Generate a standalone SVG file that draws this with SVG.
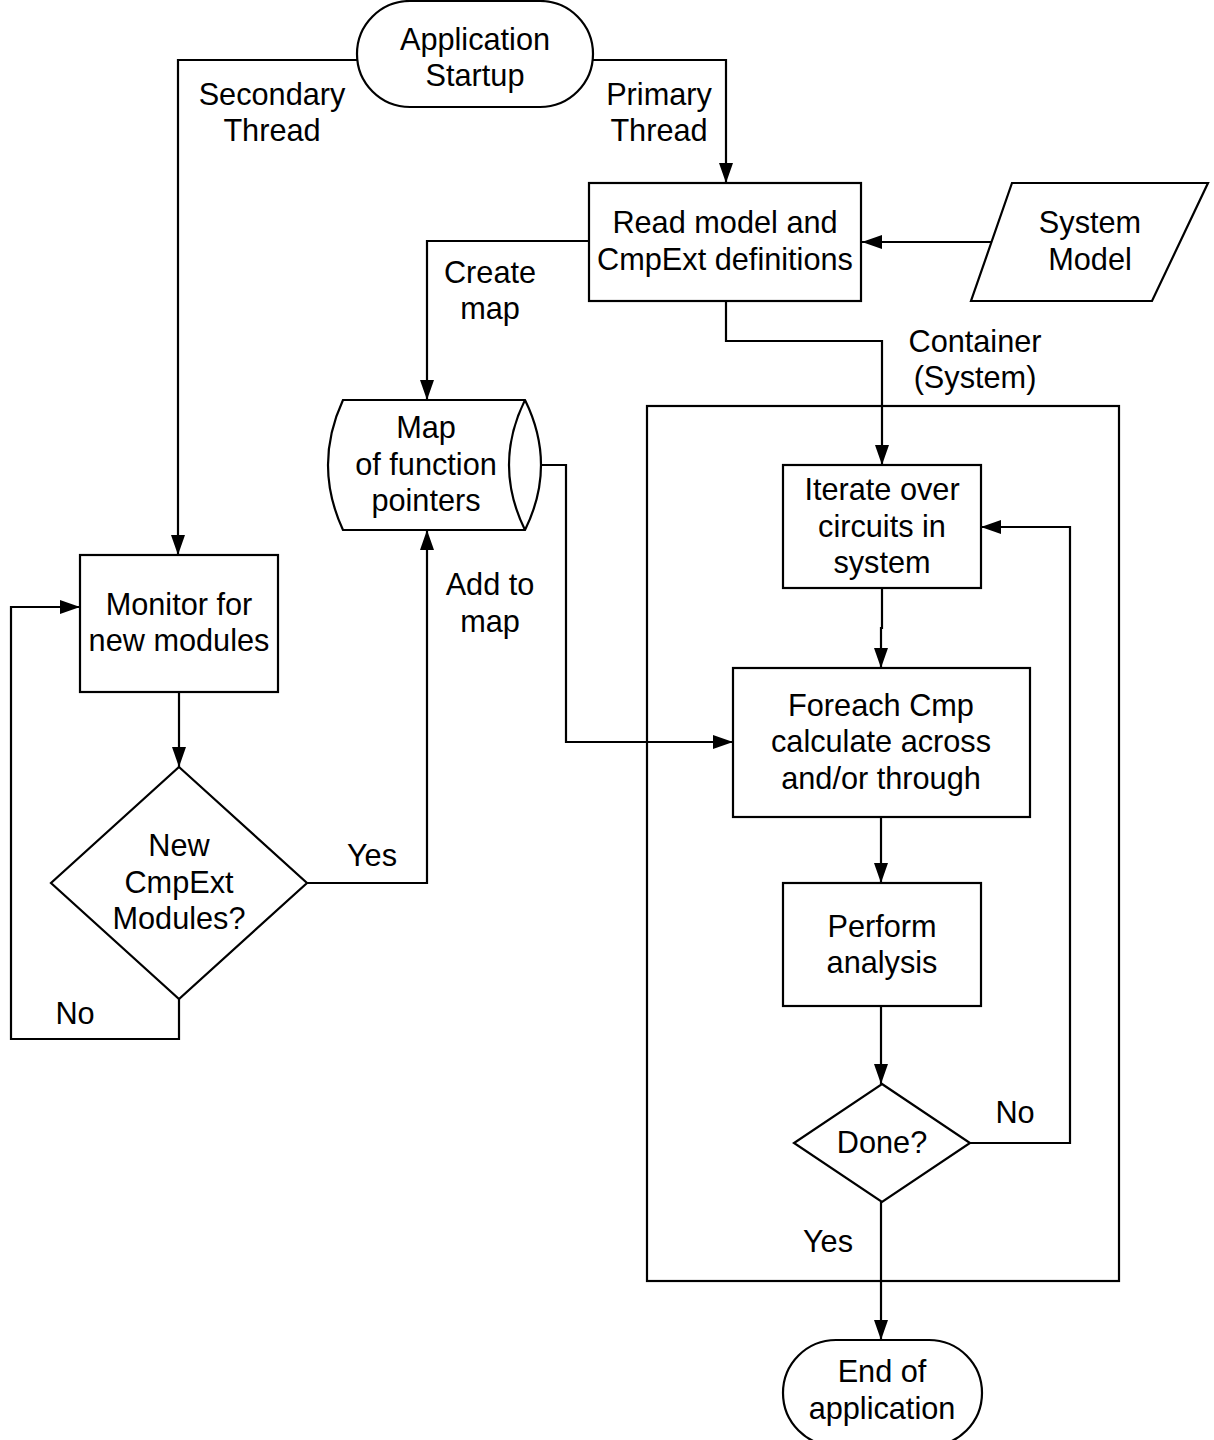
<svg xmlns="http://www.w3.org/2000/svg" width="1214" height="1440" viewBox="0 0 1214 1440">
  <defs>
    <marker id="arrow" markerWidth="20" markerHeight="14" refX="20" refY="7" orient="auto" markerUnits="userSpaceOnUse">
      <path d="M0,0 L20,7 L0,14 Z" fill="#000"/>
    </marker>
    <style>
      .shape { fill: #fff; stroke: #000; stroke-width: 2.2; }
      .line { fill: none; stroke: #000; stroke-width: 2.2; }
      .arr { marker-end: url(#arrow); }
      text { font-family: "Liberation Sans", Arial, sans-serif; font-size: 30.7px; fill: #000; text-anchor: middle; }
    </style>
  </defs>
  <rect width="1214" height="1440" fill="#fff"/>

  <!-- container frame -->
  <g id="container">
    <rect class="shape" x="647" y="406" width="472" height="875" fill="none"/>
    <text x="975" y="352">Container</text>
    <text x="975" y="388">(System)</text>
  </g>

  <!-- connectors -->
  <g id="connectors">
    <polyline class="line arr" points="357,60 178,60 178,555"/>
    <polyline class="line arr" points="593,60 726,60 726,183"/>
    <polyline class="line arr" points="992,242 862,242"/>
    <polyline class="line arr" points="589,241 427,241 427,400"/>
    <polyline class="line arr" points="726,301 726,341 882,341 882,465"/>
    <polyline class="line arr" points="541,465 566,465 566,742 733,742"/>
    <polyline class="line arr" points="179,692 179,767"/>
    <polyline class="line arr" points="307,883 427,883 427,530"/>
    <polyline class="line arr" points="179,999 179,1039 11,1039 11,607 80,607"/>
    <polyline class="line arr" points="882,588 882,628 881,628 881,668"/>
    <polyline class="line arr" points="881,817 881,883"/>
    <polyline class="line arr" points="881,1006 881,1084"/>
    <polyline class="line arr" points="970,1143 1070,1143 1070,527 981,527"/>
    <polyline class="line arr" points="881,1202 881,1340"/>
    <text x="272" y="105">Secondary</text>
    <text x="272" y="141">Thread</text>
    <text x="659" y="105">Primary</text>
    <text x="659" y="141">Thread</text>
    <text x="490" y="283">Create</text>
    <text x="490" y="319">map</text>
    <text x="490" y="595">Add to</text>
    <text x="490" y="632">map</text>
    <text x="372" y="866">Yes</text>
    <text x="75" y="1024">No</text>
    <text x="1015" y="1123">No</text>
    <text x="828" y="1252">Yes</text>
  </g>

  <!-- nodes -->
  <g id="start">
    <rect class="shape" x="357" y="1" width="236" height="106" rx="53" ry="53"/>
    <text x="475" y="50">Application</text>
    <text x="475" y="86">Startup</text>
  </g>

  <g id="read-model">
    <rect class="shape" x="589" y="183" width="272" height="118"/>
    <text x="725" y="233">Read model and</text>
    <text x="725" y="270">CmpExt definitions</text>
  </g>

  <g id="system-model">
    <polygon class="shape" points="1012,183 1208,183 1152,301 971,301"/>
    <text x="1090" y="233">System</text>
    <text x="1090" y="270">Model</text>
  </g>

  <g id="function-map">
    <path class="shape" d="M343,400 L525,400 Q557,465 525,530 L343,530 Q313,465 343,400 Z"/>
    <path class="line" d="M525,400 Q493,465 525,530"/>
    <text x="426" y="438">Map</text>
    <text x="426" y="475">of function</text>
    <text x="426" y="511">pointers</text>
  </g>

  <g id="monitor">
    <rect class="shape" x="80" y="555" width="198" height="137"/>
    <text x="179" y="615">Monitor for</text>
    <text x="179" y="651">new modules</text>
  </g>

  <g id="new-modules">
    <polygon class="shape" points="179,767 307,883 179,999 51,883"/>
    <text x="179" y="856">New</text>
    <text x="179" y="893">CmpExt</text>
    <text x="179" y="929">Modules?</text>
  </g>

  <g id="iterate">
    <rect class="shape" x="783" y="465" width="198" height="123"/>
    <text x="882" y="500">Iterate over</text>
    <text x="882" y="537">circuits in</text>
    <text x="882" y="573">system</text>
  </g>

  <g id="foreach">
    <rect class="shape" x="733" y="668" width="297" height="149"/>
    <text x="881" y="716">Foreach Cmp</text>
    <text x="881" y="752">calculate across</text>
    <text x="881" y="789">and/or through</text>
  </g>

  <g id="analysis">
    <rect class="shape" x="783" y="883" width="198" height="123"/>
    <text x="882" y="937">Perform</text>
    <text x="882" y="973">analysis</text>
  </g>

  <g id="done">
    <polygon class="shape" points="882,1084 970,1143 882,1202 794,1143"/>
    <text x="882" y="1153">Done?</text>
  </g>

  <g id="end">
    <rect class="shape" x="783" y="1340" width="199" height="106" rx="53" ry="53"/>
    <text x="882" y="1382">End of</text>
    <text x="882" y="1419">application</text>
  </g>
</svg>
